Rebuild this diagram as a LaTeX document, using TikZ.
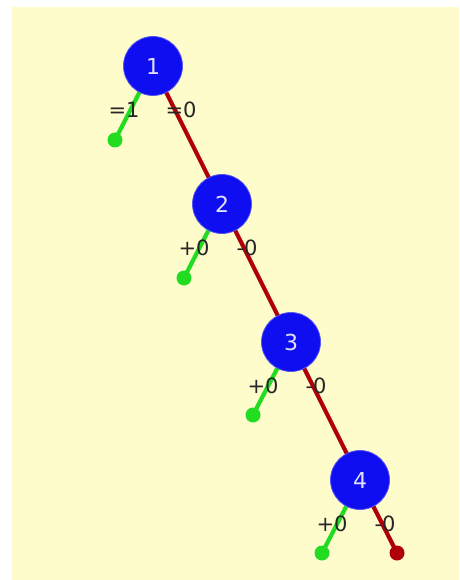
\documentclass[tikz,border=0pt]{standalone}
\usepackage{fontspec}
\setmainfont{DejaVu Sans}
\usetikzlibrary{backgrounds}
\definecolor{bgyellow}{RGB}{255,252,204}
\definecolor{nodeblue}{RGB}{14,14,240}
\definecolor{edgered}{RGB}{175,0,8}
\definecolor{edgegreen}{RGB}{34,220,34}
\definecolor{numwhite}{RGB}{225,225,255}
\tikzset{
  bnode/.style={circle,fill=nodeblue,draw=nodeblue!70!white,line width=0.8pt,minimum size=59pt,inner sep=0pt,text=numwhite,font=\fontsize{22}{22}\selectfont},
  gdot/.style={circle,fill=edgegreen,minimum size=15pt,inner sep=0pt},
  rdot/.style={circle,fill=edgered,minimum size=15pt,inner sep=0pt},
  redge/.style={draw=edgered,line width=4.2pt},
  gedge/.style={draw=edgegreen,line width=4.2pt},
  lbl/.style={inner sep=0pt,text=black!85,font=\fontsize{21}{21}\selectfont}
}
\begin{document}
\begin{tikzpicture}[x=1pt,y=-1pt]
\useasboundingbox (0,0) rectangle (459,580);
\node[bnode] (n1) at (153,66) {1};
\node[bnode] (n2) at (222,204) {2};
\node[bnode] (n3) at (291,342) {3};
\node[bnode] (n4) at (360,480) {4};
\node[gdot] (g1) at (115,140) {};
\node[gdot] (g2) at (184,278) {};
\node[gdot] (g3) at (253,415) {};
\node[gdot] (g4) at (322,553) {};
\node[rdot] (r4) at (397,553) {};
\begin{scope}[on background layer]
  \fill[bgyellow] (12,7) rectangle (459,580);
  \draw[gedge] (n1.center) -- (g1.center);
  \draw[gedge] (n2.center) -- (g2.center);
  \draw[gedge] (n3.center) -- (g3.center);
  \draw[gedge] (n4.center) -- (g4.center);
  \draw[redge] (n1.center) -- (n2.center);
  \draw[redge] (n2.center) -- (n3.center);
  \draw[redge] (n3.center) -- (n4.center);
  \draw[redge] (n4.center) -- (r4.center);
\end{scope}
\node[lbl] (a1) at ([shift={(-29,44)}]n1.center) {=1};
\node[lbl] (b1) at ([shift={(28,44)}]n1.center) {=0};
\node[lbl] (a2) at ([shift={(-28,44)}]n2.center) {+0};
\node[lbl] (b2) at ([shift={(25,44)}]n2.center) {-0};
\node[lbl] (a3) at ([shift={(-28,44)}]n3.center) {+0};
\node[lbl] (b3) at ([shift={(25,44)}]n3.center) {-0};
\node[lbl] (a4) at ([shift={(-28,44)}]n4.center) {+0};
\node[lbl] (b4) at ([shift={(25,44)}]n4.center) {-0};
\end{tikzpicture}
\end{document}
